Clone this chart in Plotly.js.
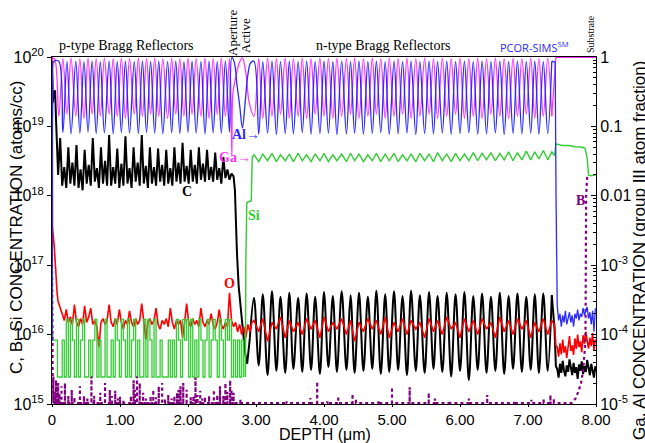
<!DOCTYPE html>
<html><head><meta charset="utf-8">
<script src="https://cdn.plot.ly/plotly-3.0.1.min.js"></script>
<style>html,body{margin:0;padding:0;background:#fff}#chart{width:645px;height:443px}</style>
</head><body><div id="chart"></div>
<script>
// ---------- depth grids (µm) ----------
const pX = [0.10,0.16,0.22,0.28,0.35,0.41,0.47,0.53,0.59,0.65,
            0.71,0.77,0.84,0.90,0.96,1.02,1.08,1.14,1.21,1.27,
            1.33,1.39,1.45,1.51,1.57,1.63,1.70,1.76,1.82,1.88,
            1.94,2.00,2.06,2.12,2.19,2.25,2.31,2.37,2.43,2.49,
            2.55,2.61];
const nX = [2.97,3.04,3.10,3.17,3.235,3.30,3.36,3.43,3.49,3.55,
            3.62,3.68,3.745,3.81,3.87,3.94,4.00,4.065,4.13,4.19,
            4.26,4.33,4.39,4.45,4.515,4.58,4.645,4.71,4.77,4.835,
            4.90,4.96,5.03,5.09,5.155,5.22,5.28,5.35,5.41,5.48,
            5.545,5.61,5.67,5.74,5.805,5.87,5.935,6.00,6.065,6.13,
            6.195,6.26,6.325,6.39,6.455,6.52,6.585,6.65,6.715,6.78,
            6.845,6.91,6.975,7.04,7.10,7.16,7.225,7.29,7.35];
const pFine = [0.09,0.12,0.15,0.18,0.21,0.24,0.27,0.30,0.33,0.36,
               0.39,0.42,0.45,0.48,0.51,0.54,0.57,0.60,0.63,0.66,
               0.69,0.72,0.75,0.78,0.81,0.84,0.87,0.90,0.93,0.96,
               0.99,1.02,1.05,1.08,1.11,1.14,1.17,1.20,1.23,1.26,
               1.29,1.32,1.35,1.38,1.41,1.44,1.47,1.50,1.53,1.56,
               1.59,1.62,1.65,1.68,1.71,1.74,1.77,1.80,1.83,1.86,
               1.89,1.92,1.95,1.98,2.01,2.04,2.07,2.10,2.13,2.16,
               2.19,2.22,2.25,2.28,2.31,2.34,2.37,2.40,2.43,2.46,
               2.49,2.52,2.55,2.58,2.61,2.64];
const siPExtra = [2.67,2.70,2.73,2.76,2.79,2.82];
const tX = [7.43,7.45,7.47,7.49,7.51,7.53,7.55,7.57,7.59,7.61,
            7.63,7.65,7.67,7.69,7.71,7.73,7.75,7.77,7.79,7.81,
            7.83,7.85,7.87,7.89,7.91,7.93,7.95,7.97,7.99];

// ---------- Al (group III fraction) ----------
const alSurfD = [0,0.005,0.012,0.03];
const alSurfV = [8e-5,3e-3,0.3,0.87];
const alP = [0.87,0.082,0.86,0.078,0.87,0.080,0.86,0.083,0.87,0.079,
             0.86,0.081,0.87,0.078,0.86,0.082,0.87,0.080,0.86,0.079,
             0.87,0.082,0.86,0.080,0.87,0.078,0.86,0.081,0.87,0.079,
             0.86,0.082,0.87,0.080,0.86,0.078,0.87,0.081,0.86,0.080,
             0.87,0.083];
const alActD = [2.645,2.68,2.72,2.76,2.80,2.84,2.88,2.92];
const alActV = [0.99,0.85,0.40,0.20,0.095,0.22,0.55,0.82];
const alN = [0.87,0.077,0.86,0.080,0.87,0.076,0.86,0.079,0.87,0.078,
             0.86,0.081,0.87,0.077,0.86,0.079,0.87,0.080,0.86,0.076,
             0.87,0.078,0.86,0.080,0.87,0.077,0.86,0.079,0.87,0.081,
             0.86,0.077,0.87,0.078,0.86,0.080,0.87,0.076,0.86,0.079,
             0.87,0.078,0.86,0.080,0.87,0.077,0.86,0.079,0.87,0.081,
             0.86,0.077,0.87,0.078,0.86,0.080,0.87,0.076,0.86,0.079,
             0.87,0.078,0.86,0.080,0.87,0.077,0.86,0.079,0.87];
const alDropD = [7.40,7.412,7.42];
const alDropV = [0.84,0.01,3.0e-4];
const alTail = [2.6e-4,1.6e-4,2.0e-4,1.3e-4,1.9e-4,1.5e-4,2.2e-4,1.4e-4,1.8e-4,2.1e-4,
                1.5e-4,1.9e-4,1.3e-4,2.0e-4,1.7e-4,2.3e-4,1.6e-4,2.0e-4,1.8e-4,2.4e-4,
                1.9e-4,2.2e-4,2.5e-4,1.7e-4,2.1e-4,1.4e-4,2.2e-4,1.1e-4,2.4e-4];

// ---------- Ga (group III fraction) ----------
const gaSurfD = [0,0.008,0.04];
const gaSurfV = [0.5,0.95,0.93];
const gaP = [0.14,0.95,0.15,0.96,0.14,0.95,0.13,0.96,0.15,0.95,
             0.14,0.96,0.15,0.95,0.14,0.96,0.13,0.95,0.15,0.96,
             0.14,0.95,0.15,0.96,0.14,0.95,0.13,0.96,0.15,0.95,
             0.14,0.96,0.15,0.95,0.14,0.96,0.13,0.95,0.15,0.96,
             0.14,0.95];
const gaActD = [2.63,2.645,2.66,2.70,2.75,2.80,2.85,2.90];
const gaActV = [0.30,0.038,0.30,0.50,0.80,0.97,0.60,0.22];
const gaN = [0.14,0.95,0.13,0.96,0.14,0.95,0.15,0.96,0.13,0.95,
             0.14,0.96,0.13,0.95,0.15,0.96,0.14,0.95,0.13,0.96,
             0.14,0.95,0.15,0.96,0.13,0.95,0.14,0.96,0.15,0.95,
             0.13,0.96,0.14,0.95,0.15,0.96,0.13,0.95,0.14,0.96,
             0.15,0.95,0.13,0.96,0.14,0.95,0.15,0.96,0.13,0.95,
             0.14,0.96,0.13,0.95,0.15,0.96,0.14,0.95,0.13,0.96,
             0.14,0.95,0.15,0.96,0.13,0.95,0.14,0.96,0.14];
const gaTailD = [7.39,7.41,8.0];
const gaTailV = [0.5,0.99,0.99];

// ---------- C (atoms/cc) ----------
const cSurfD = [0,0.004,0.012,0.025,0.045,0.06,0.075];
const cSurfV = [9e19,2.5e19,2.2e19,3.0e19,3.3e19,1.2e19,4e18];
const cP = [2.0e18,6.8e18,1.4e18,2.6e18,1.3e18,5.0e18,1.5e18,3.0e18,1.4e18,5.4e18,
            1.3e18,2.4e18,1.2e18,4.6e18,1.5e18,2.8e18,1.4e18,6.8e18,1.6e18,2.5e18,
            1.3e18,5.0e18,1.5e18,3.2e18,1.4e18,7.5e18,1.4e18,2.6e18,1.5e18,4.8e18,
            1.3e18,2.9e18,1.4e18,7.2e18,1.5e18,2.5e18,1.3e18,5.0e18,1.6e18,3.0e18,
            1.4e18,7.5e18,1.5e18,2.7e18,1.3e18,5.0e18,1.5e18,2.6e18,1.4e18,4.8e18,
            1.6e18,2.8e18,1.4e18,4.6e18,1.5e18,2.5e18,1.4e18,5.0e18,1.6e18,3.0e18,
            1.5e18,5.8e18,1.6e18,2.7e18,1.5e18,4.6e18,1.6e18,2.8e18,1.5e18,5.0e18,
            1.7e18,2.9e18,1.6e18,4.6e18,1.7e18,2.6e18,1.6e18,4.2e18,1.7e18,2.5e18,
            1.5e18,3.6e18,1.8e18,2.4e18,1.7e18,2.1e18];
const cTransD = [2.67,2.69,2.70,2.72,2.745,2.79,2.84,2.87,2.91];
const cTransV = [1.9e18,1.2e18,4.5e17,1.5e17,5e16,1.6e16,5.4e15,3.8e15,9e15];
const cN = [3.4e16,3.6e15,3.8e16,2.6e15,4.2e16,3.0e15,3.5e16,2.8e15,4.0e16,3.2e15,
            3.4e16,2.9e15,3.9e16,3.1e15,3.5e16,2.7e15,4.1e16,3.4e15,3.6e16,2.9e15,
            4.2e16,3.1e15,3.7e16,2.8e15,4.0e16,3.0e15,3.5e16,3.2e15,4.3e16,2.7e15,
            3.8e16,2.9e15,4.2e16,3.1e15,3.6e16,2.6e15,4.3e16,3.0e15,3.7e16,2.8e15,
            4.1e16,3.2e15,3.6e16,2.9e15,4.0e16,2.5e15,3.8e16,3.0e15,4.1e16,2.2e15,
            3.6e16,3.1e15,3.9e16,2.8e15,3.5e16,3.0e15,4.0e16,2.7e15,3.6e16,3.2e15,
            3.9e16,2.9e15,3.5e16,3.1e15,3.8e16,2.8e15,3.9e16,3.0e15,3.7e16];
const cDropD = [7.39,7.41];
const cDropV = [1.2e16,3.5e15];
const cTail = [3.2e15,2.4e15,3.8e15,2.8e15,4.2e15,3.0e15,2.5e15,3.6e15,2.9e15,4.4e15,
               3.1e15,2.6e15,3.9e15,2.8e15,3.4e15,2.3e15,3.7e15,3.0e15,4.1e15,2.7e15,
               3.5e15,2.9e15,4.3e15,3.1e15,2.6e15,3.8e15,3.0e15,2.4e15,3.5e15];

// ---------- O (atoms/cc) ----------
const oSurfD = [0,0.004,0.007,0.034,0.054,0.075];
const oSurfV = [1e20,2e19,3.5e17,1.8e17,7.7e16,4e16];
const oP = [3.0e16,2.5e16,2.0e16,1.6e16,2.3e16,1.5e16,1.8e16,1.4e16,2.7e16,1.5e16,
            1.3e16,1.7e16,1.4e16,2.6e16,1.5e16,1.8e16,2.4e16,1.4e16,1.6e16,1.3e16,
            6.6e15,1.5e16,1.7e16,1.4e16,1.6e16,2.7e16,1.5e16,1.3e16,1.7e16,1.4e16,
            2.3e16,1.5e16,1.2e16,1.6e16,1.4e16,2.2e16,1.5e16,1.3e16,1.7e16,1.4e16,
            1.6e16,2.8e16,1.4e16,8.5e15,1.5e16,1.7e16,1.4e16,1.6e16,2.4e16,1.4e16,
            1.2e16,1.6e16,1.4e16,1.7e16,1.3e16,2.4e16,1.5e16,1.2e16,1.6e16,1.4e16,
            1.6e16,9.0e15,1.5e16,2.8e16,1.5e16,1.3e16,1.7e16,1.4e16,1.6e16,1.3e16,
            2.4e16,1.5e16,1.3e16,1.6e16,1.4e16,2.0e16,1.4e16,1.2e16,1.5e16,2.3e16,
            1.4e16,1.2e16,1.5e16,1.3e16,4.0e16,1.6e16];
const oTransD = [2.67,2.70,2.73,2.76,2.79,2.82,2.85,2.88,2.91,2.94];
const oTransV = [1.3e16,1.5e16,1.1e16,1.4e16,1.0e16,1.3e16,9e15,1.4e16,1.1e16,1.5e16];
const oN = [1.6e16,1.1e16,1.7e16,8e15,1.5e16,1.2e16,1.8e16,9e15,1.6e16,1.1e16,
            1.5e16,1.0e16,1.7e16,1.2e16,1.6e16,9e15,1.8e16,1.1e16,1.5e16,1.2e16,
            1.7e16,1.0e16,1.6e16,8e15,1.5e16,1.1e16,1.7e16,1.2e16,1.6e16,1.0e16,
            1.8e16,9e15,1.5e16,1.1e16,1.7e16,1.0e16,1.6e16,1.2e16,1.5e16,9e15,
            1.7e16,1.1e16,1.6e16,1.0e16,1.8e16,1.2e16,1.5e16,9e15,1.7e16,1.1e16,
            1.6e16,1.0e16,1.7e16,1.2e16,1.5e16,9e15,1.8e16,1.1e16,1.6e16,1.0e16,
            1.7e16,1.2e16,1.6e16,9e15,1.5e16,1.1e16,1.7e16,1.0e16,1.6e16];
const oDropD = [7.39,7.41];
const oDropV = [1.4e16,7e15];
const oTail = [6.5e15,4.8e15,7.5e15,5.2e15,8.5e15,5.5e15,6.8e15,4.6e15,7.2e15,9.5e15,
               5.8e15,7.0e15,5.1e15,8.8e15,6.2e15,1.0e16,6.6e15,8.0e15,5.6e15,9.8e15,
               7.4e15,1.1e16,8.2e15,6.3e15,9.0e15,6.8e15,1.05e16,5.9e15,8.5e15];

// ---------- Si (atoms/cc) ----------
const siSurfD = [0,0.005,0.01,0.075,0.08];
const siSurfV = [4.5e17,1e16,8.3e15,8.3e15,2.45e15];
const siLevels = [2.45e15,8.3e15,1.66e16];
const siCount = [0,0,1,0,2,0,2,1,0,2, 0,1,2,0,0,1,0,1,2,0,
                 1,0,0,2,0,0,1,0,2,1, 0,2,1,0,2,0,1,2,0,1,
                 0,0,2,0,2,1,0,2,0,0, 1,0,0,0,1,0,1,0,2,1,
                 0,2,1,2,0,2,0,1,0,2, 1,0,1,2,0,1,2,1,0,2,
                 1,0,2,1,2,0,1,0,1,0, 1,0];
const siRiseD = [2.845,2.85,2.865,2.93,2.945];
const siRiseV = [2.45e15,1.1e17,8e17,8.5e17,3.6e18];
const siN = [3.9e18,3.1e18,4.0e18,3.2e18,4.1e18,3.1e18,3.9e18,3.2e18,4.0e18,3.1e18,
             4.1e18,3.2e18,3.9e18,3.1e18,4.0e18,3.2e18,4.1e18,3.1e18,3.9e18,3.2e18,
             4.0e18,3.1e18,4.1e18,3.2e18,4.0e18,3.1e18,3.9e18,3.2e18,4.1e18,3.1e18,
             4.0e18,3.2e18,4.1e18,3.1e18,3.9e18,3.2e18,4.0e18,3.1e18,4.1e18,3.2e18,
             4.0e18,3.1e18,4.2e18,3.2e18,4.0e18,3.1e18,4.1e18,3.2e18,4.0e18,3.2e18,
             4.2e18,3.2e18,4.1e18,3.3e18,4.2e18,3.2e18,4.1e18,3.3e18,4.3e18,3.2e18,
             4.2e18,3.3e18,4.4e18,3.3e18,4.3e18,3.4e18,4.5e18,3.3e18,4.3e18];
const siTailD = [7.39,7.41,7.50,7.60,7.70,7.80,7.84,7.87,7.89,7.93,8.0];
const siTailV = [3.8e18,5.6e18,5.3e18,5.3e18,5.1e18,5.0e18,4.8e18,3.5e18,2.0e18,1.95e18,2.0e18];

// ---------- B (atoms/cc) ----------
const bSurfD = [0,0.004,0.01];
const bSurfV = [1.5e17,5e15,2.5e15];
const bFloor = 1.03e15;
const bSpikeD = [0.02,0.04,0.06,0.09,0.11,0.14,0.19,0.24,0.29,0.33,
                 0.41,0.47,0.52,0.58,0.62,0.71,0.78,0.85,0.88,0.93,
                 0.97,1.00,1.05,1.16,1.20,1.22,1.25,1.29,1.34,1.38,
                 1.45,1.49,1.53,1.57,1.62,1.66,1.71,1.76,1.80,1.84,
                 1.86,1.89,1.93,1.98,2.04,2.08,2.11,2.14,2.18,2.21,
                 2.25,2.31,2.38,2.43,2.47,2.52,2.55,2.58,2.62,2.64,
                 2.67,2.77,3.45,3.80,3.90,4.05,4.21,4.42,4.47,4.80,
                 5.00,5.26,5.54,5.63,5.85,6.13,6.40,6.80,7.05,7.23,
                 7.33,7.38];
const bSpikeV = [2.5e15,1.5e15,2.2e15,2.0e15,1.4e15,1.8e15,2.0e15,1.3e15,1.6e15,1.25e15,
                 1.8e15,1.3e15,1.2e15,2.5e15,1.3e15,1.45e15,2.0e15,1.6e15,1.3e15,1.55e15,
                 1.2e15,1.27e15,1.15e15,1.3e15,2.2e15,1.6e15,2.5e15,2.0e15,1.45e15,1.2e15,
                 1.3e15,1.6e15,1.25e15,1.8e15,2.0e15,1.2e15,1.35e15,1.2e15,1.3e15,1.45e15,
                 1.6e15,1.8e15,2.0e15,1.6e15,1.25e15,1.3e15,2.4e15,1.35e15,1.55e15,1.2e15,
                 1.27e15,1.3e15,1.6e15,1.35e15,1.8e15,1.3e15,2.0e15,1.5e15,2.2e15,1.6e15,
                 1.45e15,1.15e15,1.1e15,1.22e15,2.1e15,1.1e15,1.3e15,1.4e15,1.2e15,1.1e15,
                 1.75e15,1.75e15,1.45e15,1.2e15,1.12e15,1.2e15,1.35e15,1.1e15,1.15e15,1.2e15,
                 1.35e15,1.2e15];
const bSubD = [7.64,7.70,7.74,7.78,7.81,7.83,7.845,7.85,7.855,7.87,7.90];
const bSubV = [1.03e15,1.2e15,1.5e15,2.0e15,3.0e15,5.0e15,8e15,1e17,1e18,1.9e18,1.9e18];

// ---------- axis tick labels ----------
const xTickVals = [0,1,2,3,4,5,6,7,8];
const xTickText = ['0','1.00','2.00','3.00','4.00','5.00','6.00','7.00','8.00'];
const yTickVals = [1e15,1e16,1e17,1e18,1e19,1e20];
const yTickText = ['10<sup>15</sup>','10<sup>16</sup>','10<sup>17</sup>','10<sup>18</sup>','10<sup>19</sup>','10<sup>20</sup>'];
const y2TickVals = [1e-5,1e-4,1e-3,1e-2,1e-1,1];
const y2TickText = ['10<sup>-5</sup>','10<sup>-4</sup>','10<sup>-3</sup>','0.01','0.1','1'];

// ---------- build traces ----------
const last = a => a[a.length-1];
const COL = {al:'#2a2aff', ga:'#ff33ff', c:'#000000', o:'#ff0000', si:'#33cc33', b:'#800080'};
function tr(x, y, color, width, shape, y2, dash){
  return {x, y, type:'scatter', mode:'lines', yaxis: y2 ? 'y2':'y',
    line:{color, width, shape: shape||'linear', dash: dash||'solid', smoothing:1},
    hoverinfo:'skip', showlegend:false};
}
const siPD = pFine.concat(siPExtra);
const bX = [], bY = [];
bSurfD.forEach((d,i)=>{bX.push(d); bY.push(bSurfV[i]);});
bSpikeD.forEach((d,i)=>{bX.push(d,d,d); bY.push(bFloor,bSpikeV[i],bFloor);});
bSubD.forEach((d,i)=>{bX.push(d); bY.push(bSubV[i]);});

const traces = [
  tr(gaSurfD.concat(pX, gaActD, nX), gaSurfV.concat(gaP, gaActV, gaN), COL.ga, 1.3, 'spline', true),
  tr([last(nX)].concat(gaTailD), [last(gaN)].concat(gaTailV), COL.ga, 1.3, 'linear', true),
  tr(alSurfD.concat(pX, alActD, nX), alSurfV.concat(alP, alActV, alN), COL.al, 1.3, 'spline', true),
  tr([last(nX)].concat(alDropD, tX), [last(alN)].concat(alDropV, alTail), COL.al, 1.3, 'linear', true),
  tr(cSurfD.concat(pFine, cTransD), cSurfV.concat(cP, cTransV), COL.c, 2, 'linear'),
  tr([last(cTransD)].concat(nX), [last(cTransV)].concat(cN), COL.c, 2, 'spline'),
  tr([last(nX)].concat(cDropD, tX), [last(cN)].concat(cDropV, cTail), COL.c, 2, 'linear'),
  tr(oSurfD.concat(pFine, oTransD, nX, oDropD, tX), oSurfV.concat(oP, oTransV, oN, oDropV, oTail), COL.o, 1.6, 'linear'),
  tr(siSurfD.concat(siPD), siSurfV.concat(siCount.map(c=>siLevels[c])), COL.si, 1.3, 'hv'),
  tr(siRiseD.concat(nX, siTailD), siRiseV.concat(siN, siTailV), COL.si, 1.4, 'linear'),
  tr(bX, bY, COL.b, 2.2, 'linear', false, 'dot')
];

// ---------- annotations ----------
const PL=52, PR=596, PT=57, PB=404;
function A(px, py, text, o){
  return Object.assign({xref:'paper', yref:'paper', x:(px-PL)/(PR-PL), y:(PB-py)/(PB-PT),
    text, showarrow:false, xanchor:'center', yanchor:'middle',
    font:{family:'Liberation Serif, Times New Roman, serif', size:14, color:'black'}}, o||{});
}
const sans = 'Liberation Sans, Arial, sans-serif';
const serifB = c => ({family:'Liberation Serif, Times New Roman, serif', size:14, color:c});
const annotations = [
  A(126, 45, 'p-type Bragg Reflectors'),
  A(383, 45, 'n-type Bragg Reflectors'),
  A(233, 33, 'Aperture', {textangle:-90, font:{family:'Liberation Serif, serif', size:13, color:'black'}}),
  A(245, 36, 'Active', {textangle:-90, font:{family:'Liberation Serif, serif', size:13, color:'black'}}),
  A(591, 34, 'Substrate', {textangle:-90, font:{family:'Liberation Serif, serif', size:10, color:'black'}}),
  A(534, 47, 'PCOR-SIMS<sup>SM</sup>', {font:{family:'Open Sans, sans-serif', size:11, color:'#2a2aff'}}),
  A(246, 134, '<b>Al→</b>', {font:serifB(COL.al)}),
  A(235, 157, '<b>Ga→</b>', {font:serifB(COL.ga)}),
  A(187, 191, '<b>C</b>', {font:serifB('#000')}),
  A(254, 215, '<b>Si</b>', {font:serifB(COL.si)}),
  A(229, 283, '<b>O</b>', {font:serifB(COL.o)}),
  A(580, 200, '<b>B</b>', {font:serifB(COL.b)}),
  A(16, 228, 'C, B, Si CONCENTRATION (atoms/cc)', {textangle:-90, font:{family:sans, size:17, color:'black'}}),
  A(639, 251, 'Ga, Al CONCENTRATION (group III atom fraction)', {textangle:-90, font:{family:sans, size:17, color:'black'}}),
  A(325, 434, 'DEPTH (μm)', {font:{family:sans, size:16, color:'black'}})
];

const minorVals = [];
for (let e=-5; e<0; e++) for (let m=2; m<10; m++) minorVals.push(m*Math.pow(10,e));

const layout = {
  width:645, height:443, margin:{l:52, r:49, t:57, b:39},
  paper_bgcolor:'#fff', plot_bgcolor:'#fff', showlegend:false,
  font:{family:sans, size:16, color:'black'},
  xaxis:{range:[0,8], showline:true, linecolor:'black', linewidth:1, mirror:true,
    ticks:'outside', ticklen:2, tickcolor:'black', tickmode:'array', tickvals:xTickVals, ticktext:xTickText,
    tickfont:{family:sans, size:15, color:'black'}, showgrid:false, zeroline:false},
  yaxis:{type:'log', range:[15,20], showline:true, linecolor:'black', linewidth:1,
    ticks:'outside', ticklen:4, tickcolor:'black', tickmode:'array', tickvals:yTickVals, ticktext:yTickText,
    tickfont:{family:sans, size:16, color:'black'}, showgrid:false, zeroline:false},
  yaxis2:{type:'log', range:[-5,0], overlaying:'y', side:'right', showline:true, linecolor:'black', linewidth:1,
    ticks:'inside', ticklen:5, tickcolor:'black', tickmode:'array', tickvals:y2TickVals, ticktext:y2TickText,
    minor:{ticks:'inside', ticklen:3, tickcolor:'black', tickmode:'array', tickvals:minorVals, showgrid:false},
    tickfont:{family:sans, size:16, color:'black'}, showgrid:false, zeroline:false},
  annotations
};
Plotly.newPlot('chart', traces, layout, {staticPlot:true, displayModeBar:false});
</script></body></html>
